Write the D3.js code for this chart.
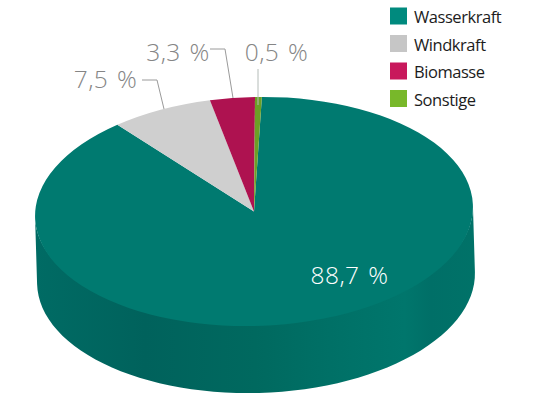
<!DOCTYPE html>
<html><head><meta charset="utf-8">
<script src="https://cdn.jsdelivr.net/npm/d3@7"></script>
<style>html,body{margin:0;padding:0;background:#fff}svg{display:block;font-family:"Open Sans",sans-serif}</style>
</head><body><svg id="c" width="533" height="410"></svg>
<script>
const categories = ["Wasserkraft","Windkraft","Biomasse","Sonstige"];
const values = [88.7,7.5,3.3,0.5];
const colors = ["#007a70","#cfcfcf","#ae1250","#6c9f26"];
const legendColors = ["#008a7e","#c6c6c6","#c8185c","#78b82a"];
const labelPos = [[349.5,284],[105.5,88],[178,61],[276.5,61]];
const labelColors = ["#ffffff","#858585","#858585","#858585"];
const leaders = [null,[[142,80],[157,80],[164,109]],[[210,49],[225,49],[233,98]],[[258,69],[258,105]]];
const leaderColors = [null,"#9a9a9a","#9a9a9a","#b4bcb8"];
const sideStops = [[0,"#006b64"],[0.25,"#00625c"],[0.5,"#00695f"],[0.72,"#007268"],[0.84,"#00766c"],[0.9,"#006f67"],[1,"#007268"]];

const svg = d3.select("#c");
const cx=254, cy=211.5, rx=219, ry=114.5, bcx=256, bcy=278, bry=115, tilt=1.6;
const phi = tilt*Math.PI/180;
const grad = svg.append("defs").append("linearGradient").attr("id","side").attr("x1","0").attr("x2","1").attr("y1","0").attr("y2","0");
sideStops.forEach(s=>grad.append("stop").attr("offset",s[0]).attr("stop-color",s[1]));

// point on a tilted ellipse
const ell = (t,x0,y0,b)=>{
  const a=t*Math.PI/180, x=rx*Math.cos(a), y=b*Math.sin(a);
  return [x0+x*Math.cos(phi)+y*Math.sin(phi), y0-x*Math.sin(phi)+y*Math.cos(phi)];
};

// cylinder wall (its upper edge tucks under the top face)
const ts = d3.range(0,181,3);
const front = ts.map(t=>ell(t,cx,cy,ry*0.97));
const back = ts.slice().reverse().map(t=>ell(t,bcx,bcy,bry));
svg.append("path").attr("d",d3.line()(front.concat(back))+"Z").attr("fill","url(#side)");

// top face
const start = 2.9*Math.PI/180;
const pie = d3.pie().sort(null).startAngle(start).endAngle(start+2*Math.PI)(values);
const arc = d3.arc().innerRadius(0).outerRadius(rx);
svg.append("g").attr("transform",`translate(${cx},${cy}) rotate(${-tilt}) scale(1,${ry/rx})`)
  .selectAll("path").data(pie).join("path").attr("d",arc).attr("fill",(d,i)=>colors[i]);

// leaders
svg.append("g").selectAll("path").data(leaders.filter(Boolean)).join("path")
  .attr("d",d3.line()).attr("fill","none").attr("stroke-width",1)
  .attr("stroke",(d,i)=>leaderColors.filter(Boolean)[i]);

// value labels
const fmt = v=>d3.format(".1f")(v).replace(".",",")+" %";
svg.append("g").selectAll("text").data(values).join("text")
  .attr("x",(d,i)=>labelPos[i][0]).attr("y",(d,i)=>labelPos[i][1])
  .attr("text-anchor","middle").attr("font-size",24.5).attr("font-weight",300)
  .attr("letter-spacing",0.4).attr("word-spacing",2)
  .attr("fill",(d,i)=>labelColors[i]).text(fmt);

// legend
const lg = svg.append("g").selectAll("g").data(categories).join("g")
  .attr("transform",(d,i)=>`translate(390,${7.5+27.5*i})`);
lg.append("rect").attr("width",17).attr("height",17).attr("fill",(d,i)=>legendColors[i]);
lg.append("text").attr("x",24).attr("y",15.5).attr("font-size",16.5).attr("letter-spacing",-0.45).attr("font-weight",400).attr("fill","#1c1c1c").text(d=>d);
</script></body></html>
